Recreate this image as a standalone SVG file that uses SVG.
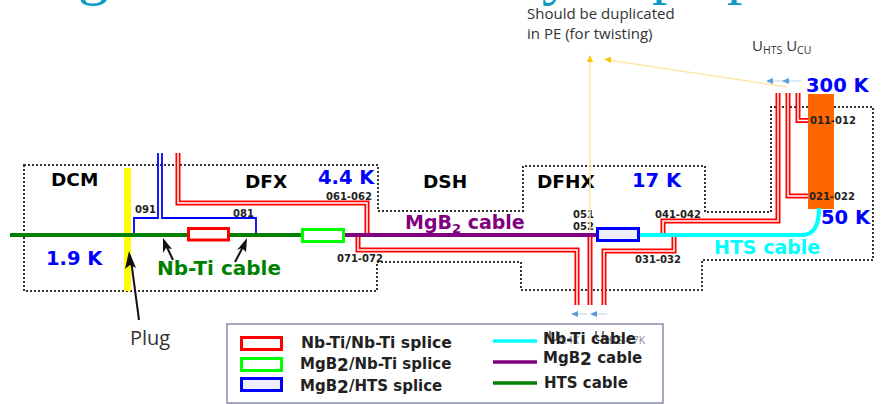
<svg xmlns="http://www.w3.org/2000/svg" width="881" height="404" viewBox="0 0 881 404">
<style>
text{font-family:"DejaVu Sans",sans-serif;font-weight:bold}
.zone{fill:none;stroke:#333;stroke-width:2;stroke-dasharray:2 2}
.r{fill:none;stroke:#f00;stroke-width:5}
.ri{fill:none;stroke:#fff;stroke-width:1.5}
.b{fill:none;stroke:#00f;stroke-width:1.8}
.t{fill:#00f;font-size:19.5px}
.n{fill:#000;font-size:18.5px}
.l{fill:#222;font-size:10px}
.c{font-family:"Open Sans","Noto Sans",sans-serif;font-weight:normal;fill:#333}
.lg{fill:#222;font-size:15px}
.u{fill:none;stroke:#bcd6ee;stroke-width:1.2}
.ua{fill:#5b9bd5}
.y{fill:none;stroke:#ffe6a8;stroke-width:1.5}
.ya{fill:#ffc000}
.title{font-family:"Liberation Serif",serif;font-weight:normal;font-size:62px;fill:#0f9bc4}
</style>
<g id="title-remnant">
<text class="title" x="78" y="-7">g</text>
<text class="title" x="542" y="-7">y</text>
<text class="title" x="652" y="-8">p</text>
<text class="title" x="727" y="-8">p</text>
</g>
<g id="zone-outline"><path class="zone" d="M24 165H378V211H523V166H705V212H771V107H873V260H702V290H521V262H377V291H24Z"/></g>
<rect id="plug-bar" x="124" y="168" width="7" height="123" fill="#ff0"/>
<rect id="current-lead" x="808" y="94" width="26" height="115" fill="#f60"/>
<g id="connectors">
<path class="b" d="M134 234V218H158V153M162 153V218H256V234"/>
<path class="r" d="M178 153V203H367V234"/><path class="ri" d="M178 153V203H367V234"/>
<path class="r" d="M358 237V250H577V305"/><path class="ri" d="M358 237V250H577V305"/>
<path class="r" d="M590 237V305"/><path class="ri" d="M590 237V305"/>
<path class="r" d="M674 237V251H604V305"/><path class="ri" d="M674 237V251H604V305"/>
<path class="r" d="M663 233V221H778V93"/><path class="ri" d="M663 233V221H778V93"/>
<path class="r" d="M788 93V196H808"/><path class="ri" d="M788 93V196H808"/>
<path class="r" d="M798 93V120.500H808"/><path class="ri" d="M798 93V120.500H808"/>
<path d="M10 235H302" stroke="#008000" stroke-width="4" fill="none"/>
<path d="M344 235H597" stroke="#800080" stroke-width="4" fill="none"/>
<path d="M640 235H802Q819 235 819 208" stroke="#0ff" stroke-width="4" fill="none"/>
<g fill="none" stroke="#111" stroke-width="2">
<path d="M173 260L165 243"/><path d="M163 238L172 249L166 248L163 253Z" fill="#111" stroke="none"/>
<path d="M235 262L245 243"/><path d="M247 238L246 252L242 248L237 250Z" fill="#111" stroke="none"/>
<path d="M139 320L131 260"/><path d="M129 251L136 268L130 265L125 269Z" fill="#111" stroke="none"/>
</g>
</g>
<g id="splices">
<rect x="188.500" y="228.500" width="40" height="11.500" fill="#fff" stroke="#f00" stroke-width="3"/>
<rect x="302.500" y="229.500" width="41" height="12" fill="#fff" stroke="#0f0" stroke-width="3"/>
<rect x="597.500" y="228.500" width="41" height="12" fill="#eef" stroke="#00f" stroke-width="3"/>
</g>
<g id="labels">
<text class="n" x="51" y="186">DCM</text>
<text class="n" x="245" y="188">DFX</text>
<text class="n" x="423" y="188">DSH</text>
<text class="n" x="537" y="188">DFHX</text>
<text class="t" x="46" y="265">1.9 K</text>
<text class="t" x="318" y="184">4.4 K</text>
<text class="t" x="632" y="187">17 K</text>
<text class="t" x="806" y="92">300 K</text>
<text class="t" x="821" y="224">50 K</text>
<text x="157" y="275" fill="#008000" font-size="20">Nb-Ti cable</text>
<text x="405" y="229" fill="#800080" font-size="19">MgB<tspan font-size="13" dy="4">2</tspan><tspan dy="-4"> cable</tspan></text>
<text x="714" y="254" fill="#0ff" font-size="19">HTS cable</text>
<text class="l" x="135" y="213">091</text><text class="l" x="233" y="217">081</text>
<text class="l" x="326" y="200">061-062</text><text class="l" x="337" y="262">071-072</text>
<text class="l" x="573" y="218">051</text><text class="l" x="573" y="230">052</text>
<text class="l" x="655" y="218">041-042</text><text class="l" x="635" y="263">031-032</text>
<text class="l" x="810" y="124">011-012</text><text class="l" x="809" y="200">021-022</text>
<text class="c" x="130" y="345" font-size="20">Plug</text>
</g>
<g id="annotations">
<path class="y" d="M590 60V232"/><path class="ya" d="M590 55L593 62H587Z"/>
<path class="y" d="M608 60L787 87"/><path class="ya" d="M604 59L611 57V63Z"/>
<text class="c" x="527" y="19" font-size="15">Should be duplicated</text>
<text class="c" x="527" y="39" font-size="15">in PE (for twisting)</text>
<text class="c" x="752" y="51" font-size="15">U<tspan font-size="10.500" dy="3">HTS</tspan><tspan dy="-3"> U</tspan><tspan font-size="10.500" dy="3">CU</tspan></text>
<path class="u" d="M770 81H801M574 314H587M593 314H607"/>
<path class="ua" d="M766 81L773 78V84ZM782 81L789 78V84ZM571 314L578 311V317ZM590 314L597 311V317Z"/>
</g>
<g id="legend">
<rect x="227" y="324" width="436" height="79" fill="#fff" stroke="#8a8aa8" stroke-width="1.5"/>
<text class="c" x="548" y="341" font-size="15">U</text>
<text class="c" x="558" y="344" font-size="10.500" style="fill:#888">4.4K</text>
<text class="c" x="594" y="341" font-size="15">U</text>
<text class="c" x="604" y="344" font-size="10.500" style="fill:#888">HTS-17K</text>
<rect x="241.500" y="337.500" width="40" height="12" fill="#fff" stroke="#f00" stroke-width="3"/>
<rect x="241.500" y="358.500" width="40" height="12" fill="#fff" stroke="#0f0" stroke-width="3"/>
<rect x="241.500" y="378.500" width="40" height="12" fill="#eef" stroke="#00f" stroke-width="3"/>
<text class="lg" x="301" y="348" style="font-size:15.6px">Nb-Ti/Nb-Ti splice</text>
<text class="lg" x="300" y="369">MgB<tspan font-size="17" dy="2">2</tspan><tspan dy="-2">/Nb-Ti splice</tspan></text>
<text class="lg" x="300" y="391">MgB<tspan font-size="17" dy="2">2</tspan><tspan dy="-2">/HTS splice</tspan></text>
<path d="M493 341H537" stroke="#0ff" stroke-width="3.500"/>
<path d="M493 362H537" stroke="#800080" stroke-width="3.500"/>
<path d="M493 383H537" stroke="#008000" stroke-width="3.500"/>
<text class="lg" x="543" y="344">Nb-Ti cable</text>
<text class="lg" x="543" y="363">MgB<tspan font-size="17" dy="2">2</tspan><tspan dy="-2"> cable</tspan></text>
<text class="lg" x="544" y="388">HTS cable</text>
</g>
</svg>
